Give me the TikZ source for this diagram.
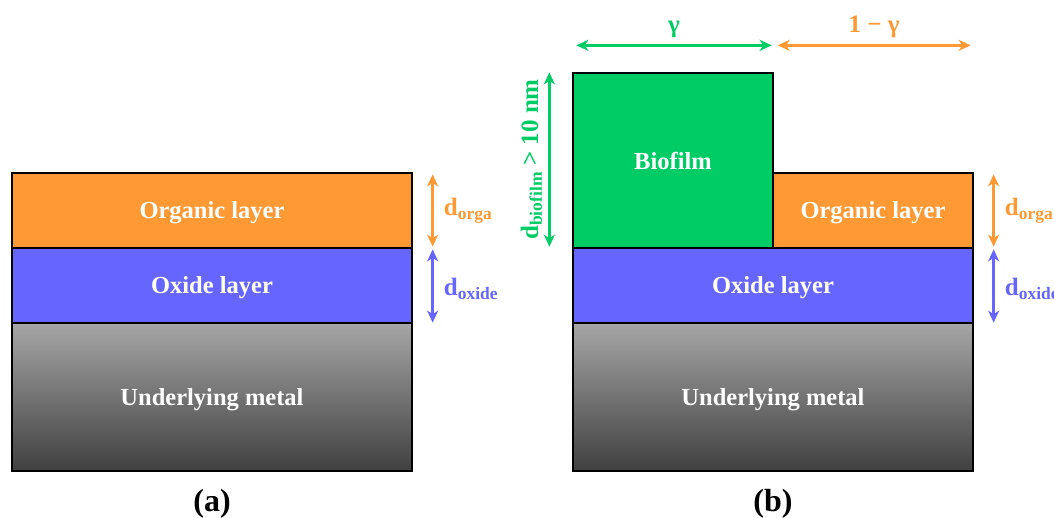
\documentclass[tikz,border=0pt]{standalone}
\usepackage{fontspec}
\setmainfont{Liberation Serif}
\usetikzlibrary{arrows.meta,positioning}
\definecolor{lyOrange}{HTML}{FF9933}
\definecolor{lyBlue}{HTML}{6666FF}
\definecolor{lyGreen}{HTML}{00CC66}
\definecolor{lyMetalTop}{HTML}{A6A6A6}
\definecolor{lyMetalBot}{HTML}{404040}
\tikzset{
  layer/.style    ={draw=black,line width=1.3pt,text=white,inner sep=0pt,text depth=0pt,
                    font=\fontsize{24.5}{28}\selectfont\bfseries},
  orgabox/.style  ={layer,fill=lyOrange,minimum height=75pt},
  oxidebox/.style ={layer,fill=lyBlue,minimum width=400pt,minimum height=75pt},
  metalbox/.style ={layer,top color=lyMetalTop,bottom color=lyMetalBot,
                    minimum width=400pt,minimum height=148pt},
  biobox/.style   ={layer,fill=lyGreen,minimum width=200pt,minimum height=175pt},
  dimarr/.style   ={{Stealth[length=12pt,width=11pt,inset=3.5pt]}-{Stealth[length=12pt,width=11pt,inset=3.5pt]},
                    line width=2.5pt},
  dlbl/.style     ={font=\fontsize{25}{28}\selectfont\bfseries,inner sep=0pt},
  caplbl/.style   ={font=\fontsize{32}{36}\selectfont\bfseries,inner sep=0pt},
}
\begin{document}
\begin{tikzpicture}[x=1pt,y=-1pt]
\useasboundingbox (0,0) rectangle (1054,518);

% (a) plain stack
\node[orgabox,minimum width=400pt] (orgA) at (212,210.5) {Organic layer};
\node[oxidebox] (oxA) at (212,285.5) {Oxide layer};
\node[metalbox] (metA) at (212,397) {Underlying metal};
\node[caplbl,below=17pt of metA] (capA) {(a)};

\draw[dimarr,lyOrange] ([xshift=20pt,yshift=-2pt]orgA.north east) -- ([xshift=20pt,yshift=2pt]orgA.south east)
  node[dlbl,midway,right=10pt,text=lyOrange] {d\textsubscript{orga}};
\draw[dimarr,lyBlue] ([xshift=20pt,yshift=-2pt]oxA.north east) -- ([xshift=20pt,yshift=1pt]oxA.south east)
  node[dlbl,midway,right=10pt,text=lyBlue,yshift=-3pt] {d\textsubscript{oxide}};

% (b) stack with biofilm patch
\node[biobox] (bio) at (673,160.5) {Biofilm};
\node[orgabox,minimum width=200pt] (orgB) at (873,210.5) {Organic layer};
\node[oxidebox] (oxB) at (773,285.5) {Oxide layer};
\node[metalbox] (metB) at (773,397) {Underlying metal};
\node[caplbl,below=17pt of metB] (capB) {(b)};

\draw[dimarr,lyOrange] ([xshift=20pt,yshift=-2pt]orgB.north east) -- ([xshift=20pt,yshift=2pt]orgB.south east)
  node[dlbl,midway,right=10pt,text=lyOrange] {d\textsubscript{orga}};
\draw[dimarr,lyBlue] ([xshift=20pt,yshift=-2pt]oxB.north east) -- ([xshift=20pt,yshift=1pt]oxB.south east)
  node[dlbl,midway,right=10pt,text=lyBlue,yshift=-3pt] {d\textsubscript{oxide}};

\draw[dimarr,lyGreen] ([xshift=4pt,yshift=27pt]bio.north west) -- ([xshift=-2pt,yshift=27pt]bio.north east)
  node[dlbl,midway,above=6pt,text=lyGreen] {γ};
\draw[dimarr,lyOrange] ([xshift=4pt,yshift=27pt]bio.north east) -- ([xshift=-3pt,yshift=127pt]orgB.north east)
  node[dlbl,midway,above=6pt,text=lyOrange] {1 − γ};
\draw[dimarr,lyGreen] ([xshift=-23pt]bio.north west) -- ([xshift=-23pt,yshift=2pt]bio.south west)
  node[dlbl,midway,rotate=90,anchor=south,inner sep=6pt,text=lyGreen] {d\textsubscript{biofilm} > 10 nm};
\end{tikzpicture}
\end{document}
